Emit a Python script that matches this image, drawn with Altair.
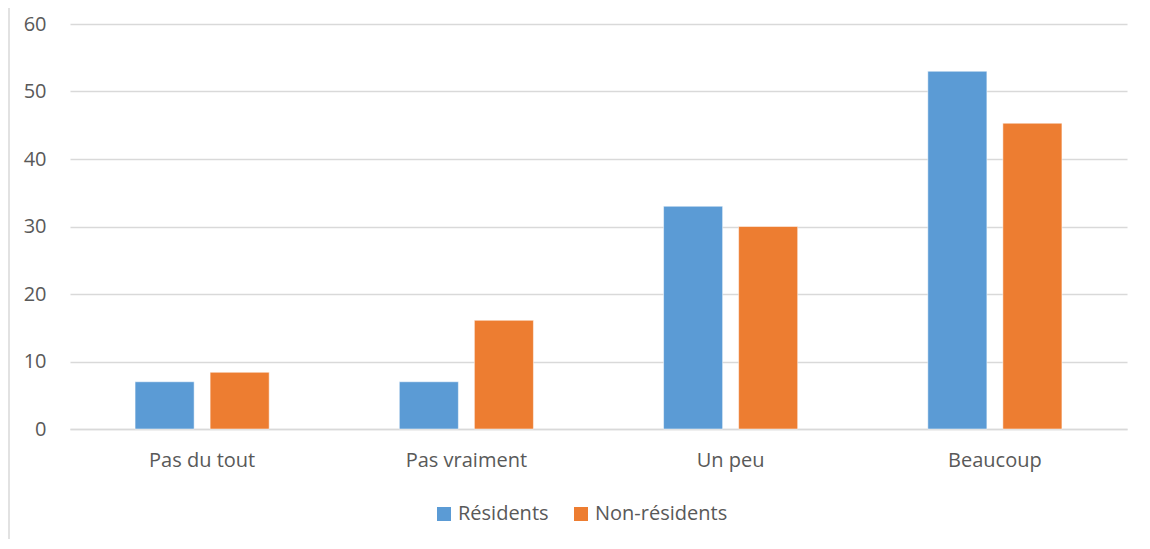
import altair as alt
import pandas as pd

categories = ["Pas du tout", "Pas vraiment", "Un peu", "Beaucoup"]
series = ["Résidents", "Non-résidents"]
residents = [7.0, 7.0, 33.0, 53.0]
non_residents = [8.4, 16.1, 30.0, 45.3]
colors = ["#5B9BD5", "#ED7D31"]

rows = []
for c, r, n in zip(categories, residents, non_residents):
    rows.append({"cat": c, "serie": series[0], "val": r})
    rows.append({"cat": c, "serie": series[1], "val": n})
df = pd.DataFrame(rows)

FONT = "Open Sans"
TXT = "#595959"
FS = 20

bars = alt.Chart(df).mark_bar(stroke="white", strokeOpacity=0.5, strokeWidth=1).encode(
    x=alt.X("cat:N", sort=categories, title=None,
            scale=alt.Scale(paddingInner=0, paddingOuter=0),
            axis=alt.Axis(labelAngle=0, labelFontSize=FS, labelColor=TXT, labelFont=FONT,
                          labelPadding=21, ticks=False, domainColor="#d9d9d9", domainWidth=1.5)),
    xOffset=alt.XOffset("serie:N", sort=series,
                        scale=alt.Scale(paddingInner=0.213, paddingOuter=0.867)),
    y=alt.Y("val:Q", title=None,
            scale=alt.Scale(domain=[0, 60], nice=False),
            axis=alt.Axis(values=[0, 10, 20, 30, 40, 50, 60], labelFontSize=FS, labelColor=TXT,
                          labelFont=FONT, labelPadding=24, ticks=False, domain=False,
                          gridColor="#d9d9d9", gridWidth=1.5)),
    color=alt.Color("serie:N", sort=series,
                    scale=alt.Scale(domain=series, range=colors),
                    legend=alt.Legend(title=None, orient="none", legendX=364, legendY=480,
                                      direction="horizontal", symbolType="square", symbolSize=196,
                                      symbolStrokeWidth=0, labelFontSize=FS, labelColor=TXT,
                                      labelFont=FONT, columnPadding=22, labelOffset=4)),
)

border = alt.Chart(pd.DataFrame({"a": [0]})).mark_rule(color="#d9d9d9", strokeWidth=1.5).encode(
    x=alt.value(-61), y=alt.value(-24), y2=alt.value(525)
)

chart = alt.layer(bars, border).properties(
    width=1057, height=405,
    padding={"left": 62, "top": 16, "right": 15, "bottom": 110},
    autosize=alt.AutoSizeParams(type="none"),
).configure(background="white").configure_view(stroke=None)

chart.save("out.html", embed_options={"renderer": "svg", "actions": False})
